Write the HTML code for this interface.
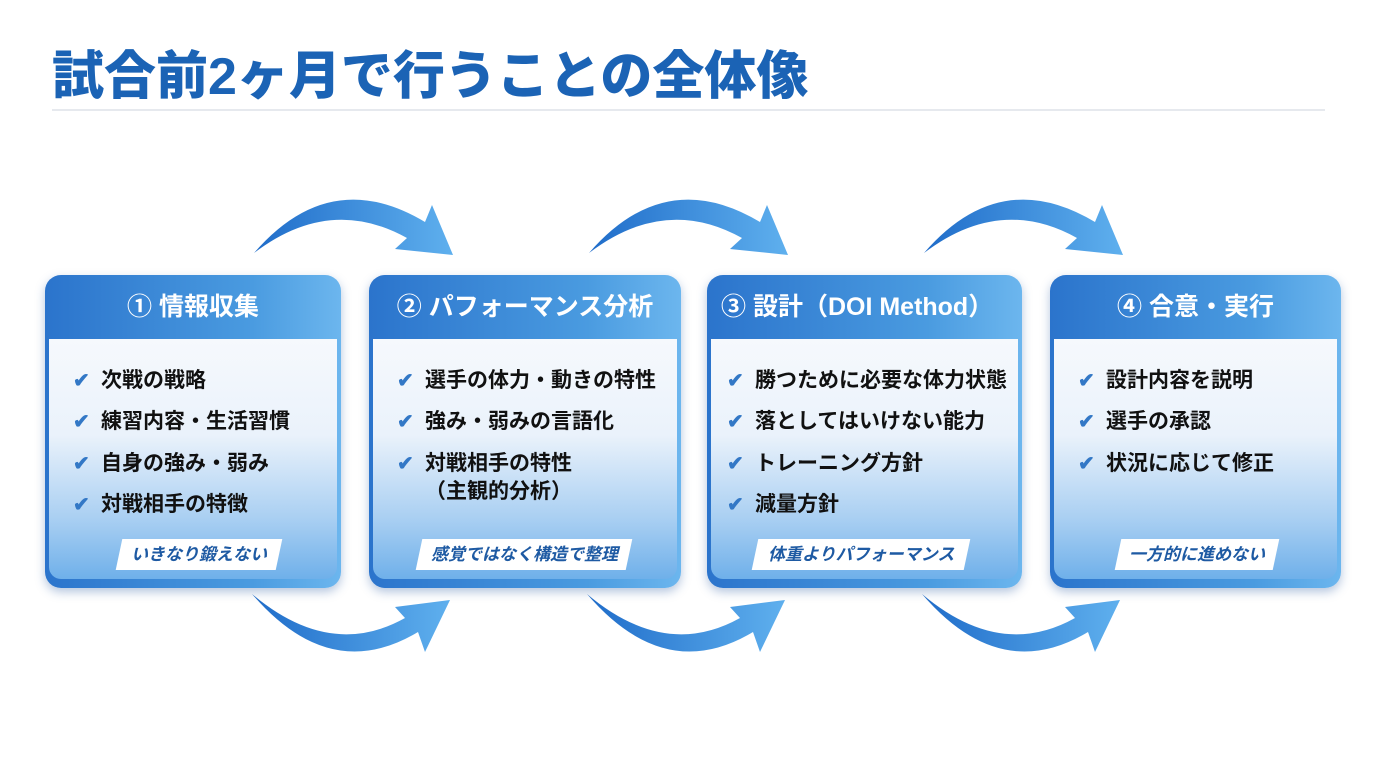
<!DOCTYPE html>
<html><head><meta charset="utf-8"><style>
*{margin:0;padding:0;box-sizing:border-box}
body{width:1376px;height:768px;background:#fff;position:relative;overflow:hidden;font-family:"Liberation Sans","Noto Sans CJK JP",sans-serif}
.title{position:absolute;left:52px;top:34px;font-size:52px;font-weight:900;color:#1b63b5;letter-spacing:0px;white-space:nowrap}
.rule{position:absolute;left:52px;top:109px;width:1273px;height:2px;background:#e6e9ee}
.card{position:absolute;top:275px;height:313px;border-radius:16px;background:linear-gradient(90deg,#2b74cc,#4a9be0 70%,#6cb6ee);box-shadow:0 4px 10px rgba(40,90,160,.35)}
.hd{height:64px;color:#fff;font-size:25px;font-weight:bold;text-align:center;line-height:64px;white-space:nowrap}
.bd{position:absolute;left:4px;right:4px;top:64px;bottom:9px;background:linear-gradient(180deg,#f6f9fd 0%,#eaf2fb 40%,#a9cff2 75%,#6fb0ea 100%);border-radius:0 0 12px 12px}
.it{position:absolute;left:24px;font-size:21px;font-weight:bold;color:#111;white-space:nowrap}
.it b{color:#3378c6;font-size:20px;margin-right:8px;display:inline-block;width:20px}
.tag{position:absolute;top:200px;height:31px;background:#fff;transform:skewX(-12deg);text-align:center;line-height:31px}
.tag span{display:inline-block;transform:skewX(12deg);font-style:italic;font-weight:bold;font-size:17px;color:#1e5aa3}
</style></head><body>
<div class="title">試合前2ヶ月で行うことの全体像</div>
<div class="rule"></div>
<svg width="1376" height="768" style="position:absolute;left:0;top:0">
<defs><linearGradient id="g" x1="0" x2="1"><stop offset="0" stop-color="#1f6cc9"/><stop offset="1" stop-color="#5fb0ee"/></linearGradient>
<g id="ar">
<path d="M254 253 Q330 165 425 222 L432 205 L453 255 L395 249 L407 238 Q330 195 254 253Z"/>
<path d="M252 594 Q330 685 418 632 L425 652 L450 600 L395 607 L405 618 Q330 660 252 594Z"/>
</g></defs>
<g fill="url(#g)"><use href="#ar"/></g>
<g fill="url(#g)" transform="translate(335,0)"><use href="#ar"/></g>
<g fill="url(#g)" transform="translate(670,0)"><use href="#ar"/></g>
</svg>

<div class="card" style="left:45px;width:296px">
<div class="hd">① 情報収集</div>
<div class="bd">
<div class="it" style="top:25px"><b>✔</b>次戦の戦略</div>
<div class="it" style="top:66px"><b>✔</b>練習内容・生活習慣</div>
<div class="it" style="top:108px"><b>✔</b>自身の強み・弱み</div>
<div class="it" style="top:149px"><b>✔</b>対戦相手の特徴</div>
<div class="tag" style="left:70px;width:160px"><span>いきなり鍛えない</span></div>
</div></div>

<div class="card" style="left:369px;width:312px">
<div class="hd">② パフォーマンス分析</div>
<div class="bd">
<div class="it" style="top:25px"><b>✔</b>選手の体力・動きの特性</div>
<div class="it" style="top:66px"><b>✔</b>強み・弱みの言語化</div>
<div class="it" style="top:108px"><b>✔</b>対戦相手の特性</div>
<div class="it" style="top:136px"><b style="visibility:hidden">✔</b>（主観的分析）</div>
<div class="tag" style="left:46px;width:210px"><span>感覚ではなく構造で整理</span></div>
</div></div>

<div class="card" style="left:707px;width:315px">
<div class="hd" style="text-align:left;padding-left:14px">③ 設計（DOI Method）</div>
<div class="bd">
<div class="it" style="top:25px;left:16px"><b>✔</b>勝つために必要な体力状態</div>
<div class="it" style="top:66px;left:16px"><b>✔</b>落としてはいけない能力</div>
<div class="it" style="top:108px;left:16px"><b>✔</b>トレーニング方針</div>
<div class="it" style="top:149px;left:16px"><b>✔</b>減量方針</div>
<div class="tag" style="left:44px;width:212px"><span>体重よりパフォーマンス</span></div>
</div></div>

<div class="card" style="left:1050px;width:291px">
<div class="hd">④ 合意・実行</div>
<div class="bd">
<div class="it" style="top:25px"><b>✔</b>設計内容を説明</div>
<div class="it" style="top:66px"><b>✔</b>選手の承認</div>
<div class="it" style="top:108px"><b>✔</b>状況に応じて修正</div>
<div class="tag" style="left:64px;width:158px"><span>一方的に進めない</span></div>
</div></div>
</body></html>
